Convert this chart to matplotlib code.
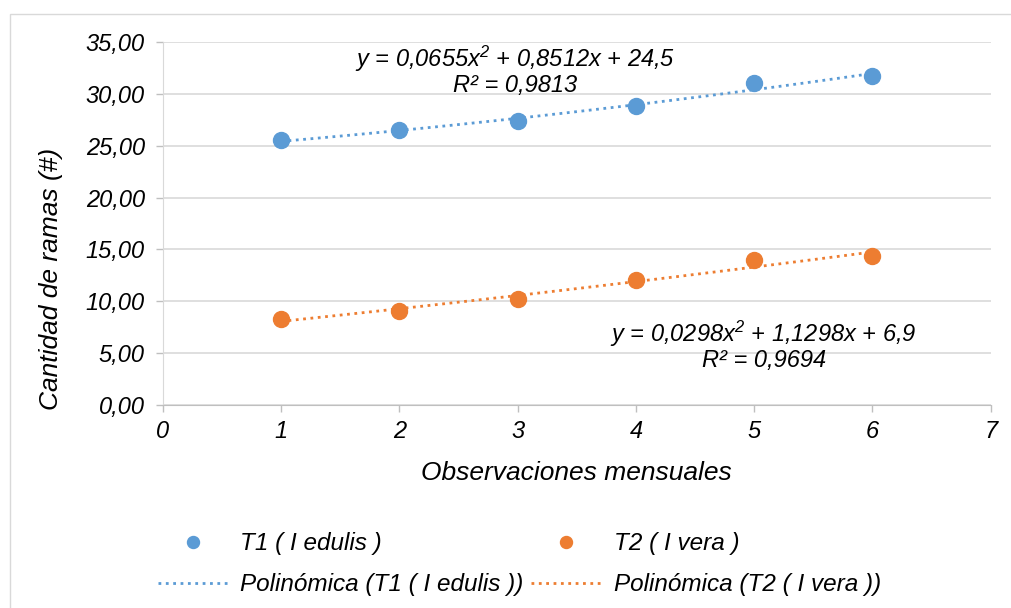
import numpy as np
import matplotlib
matplotlib.use('Agg')
import matplotlib.pyplot as plt
from matplotlib.patches import Rectangle

plt.rcParams['font.family'] = ['Liberation Sans', 'DejaVu Sans']
plt.rcParams['font.style'] = 'italic'
plt.rcParams['mathtext.fontset'] = 'custom'
plt.rcParams['mathtext.it'] = 'Liberation Sans:italic'
plt.rcParams['mathtext.rm'] = 'Liberation Sans:italic'

# data
months = [1, 2, 3, 4, 5, 6]
t1_edulis = [25.5, 26.5, 27.4, 28.8, 31.0, 31.7]
t2_vera = [8.3, 9.1, 10.2, 12.0, 14.0, 14.4]

# trendline coefficients (as printed on the chart)
coef_t1 = [0.0655, 0.8512, 24.5]
coef_t2 = [0.0298, 1.1298, 6.9]
eq_t1 = 'y = 0,0655x$^{2}$ + 0,8512x + 24,5\nR² = 0,9813'
eq_t2 = 'y = 0,0298x$^{2}$ + 1,1298x + 6,9\nR² = 0,9694'

labels = ['T1 ( I edulis )', 'T2 ( I vera )']
xticks = [0, 1, 2, 3, 4, 5, 6, 7]
yticks = [0, 5, 10, 15, 20, 25, 30, 35]

blue = '#5B9BD5'
orange = '#ED7D31'
grid_c = '#D9D9D9'

fig = plt.figure(figsize=(10.12, 6.08), dpi=100)
ax = fig.add_axes([0.161, 0.334, 0.818, 0.597])

# outer chart border
fig.patches.append(Rectangle((10/1012, -0.05), 1.1, 1 - 14/608 + 0.05,
                             transform=fig.transFigure, fill=False,
                             edgecolor=grid_c, lw=1))

xs = np.linspace(months[0], months[-1], 100)
h1, = ax.plot(months, t1_edulis, 'o', color=blue, ms=11.5, zorder=3, label=labels[0])
h2, = ax.plot(months, t2_vera, 'o', color=orange, ms=11.5, zorder=3, label=labels[1])
p1, = ax.plot(xs, np.polyval(coef_t1, xs), ':', color=blue, lw=2, zorder=2,
              label='Polinómica (' + labels[0] + ')')
p2, = ax.plot(xs, np.polyval(coef_t2, xs), ':', color=orange, lw=2, zorder=2,
              label='Polinómica (' + labels[1] + ')')

ax.text(2.98, 32.3, eq_t1, ha='center', va='center', fontsize=17, linespacing=1.0)
ax.text(5.08, 5.7, eq_t2, ha='center', va='center', fontsize=17, linespacing=1.0)

ax.set_xlim(0, 7)
ax.set_ylim(0, 35)
ax.set_xticks(xticks)
ax.set_yticks(yticks)
ax.set_yticklabels([('%.2f' % v).replace('.', ',') for v in yticks])
ax.tick_params(axis='both', labelsize=17, colors='#BFBFBF', labelcolor='black',
               length=5, width=1)
ax.tick_params(axis='x', pad=6)
ax.tick_params(axis='y', pad=8)
ax.grid(axis='y', color=grid_c, lw=1.2)
ax.set_axisbelow(True)
for s in ['top', 'right']:
    ax.spines[s].set_visible(False)
ax.spines['left'].set_color(grid_c)
ax.spines['bottom'].set_color('#BFBFBF')

ax.set_xlabel('Observaciones mensuales', fontsize=19, labelpad=13)
ax.set_ylabel('Cantidad de ramas (#)', fontsize=19)
ax.yaxis.set_label_coords(-0.121, 0.347)

fig.legend([h1, p1, h2, p2],
           [h1.get_label(), p1.get_label(), h2.get_label(), p2.get_label()],
           ncol=2, loc='center', bbox_to_anchor=(0.513, 0.072), frameon=False,
           fontsize=17.5, handlelength=2.9, columnspacing=0.3, handletextpad=0.5,
           labelspacing=0.75, markerscale=0.75)

fig.savefig('out.png', dpi=100)
